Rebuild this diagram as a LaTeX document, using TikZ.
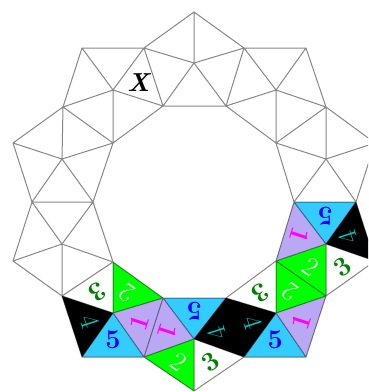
\documentclass[tikz,border=0pt]{standalone}
\definecolor{skyfill}{HTML}{33CCFF}
\definecolor{lilac}{HTML}{BBA8F5}
\definecolor{digitgreen}{RGB}{0,128,0}
\definecolor{digitcyan}{RGB}{0,204,204}
\definecolor{digitmag}{RGB}{255,0,255}
\definecolor{puregreen}{RGB}{0,255,0}
\definecolor{pureblue}{RGB}{0,0,255}
\tikzset{
  edge/.style={draw=black,draw opacity=0.47,line width=1pt,line join=round},
  digit/.style={inner sep=0pt,font=\fontsize{27}{27}\selectfont\bfseries},
  lightdigit/.style={inner sep=0pt,font=\fontsize{27}{27}\selectfont},
  five/.style={digit,text=pureblue},
  one/.style={digit,text=digitmag},
  two/.style={lightdigit,text=white},
  three/.style={digit,text=digitgreen},
  four/.style={lightdigit,text=digitcyan}
}
\newcommand{\lab}[6]{%
  \node[#4,rotate=#5] (lbl-#1-#2-#3) at (barycentric cs:#1=1,#2=1,#3=1) {#6};}
\newcommand{\hubcell}[6]{%
  (#2) -- (#3) -- (#4) -- (#5) -- (#6) -- cycle
  (#1) -- (#2) (#1) -- (#3) (#1) -- (#4) (#1) -- (#5) (#1) -- (#6) }
\begin{document}
\begin{tikzpicture}[x=1pt,y=-1pt]
\useasboundingbox (0,0) rectangle (368,392);
\clip (0,0) rectangle (368,392);
\foreach \n/\x/\y in {t0/194/12,a/144/48,b/244/48,c/82/48,d/306/48,e/194/63,f/113/90,g/276/90,
  h/163/106,i/226/106,j/63/107,k/326/107,l/113/143,m/276/143,n/13/143,o/375/143,p/62/159,q/326/159,
  r/32/202,s/93/202,u/294/202,v/356/202,w/62/244,xx/326/244,yy/13/261,z/113/262,aa/276/261,ab/375/261,
  ac/62/296,ad/326/296,ae/163/298,af/226/298,ag/113/313,ah/276/313,ai/194/339,aj/82/357,ak/144/357,
  al/244/357,am/306/357,an/194/391}
  {\coordinate (\n) at (\x,\y);}
% coloured faces
\fill[skyfill] (ag) -- (ak) -- (aj) -- cycle;
\fill[lilac] (ag) -- (ae) -- (ak) -- cycle;
\fill[puregreen] (z) -- (ae) -- (ag) -- cycle;
\fill[skyfill] (ae) -- (af) -- (ai) -- cycle;
\fill[lilac] (ae) -- (ai) -- (ak) -- cycle;
\fill[puregreen] (ak) -- (ai) -- (an) -- cycle;
\fill[skyfill] (ah) -- (am) -- (al) -- cycle;
\fill[lilac] (ah) -- (ad) -- (am) -- cycle;
\fill[puregreen] (aa) -- (ad) -- (ah) -- cycle;
\fill[puregreen] (aa) -- (xx) -- (ad) -- cycle;
\fill[lilac] (aa) -- (u) -- (xx) -- cycle;
\fill[skyfill] (u) -- (v) -- (xx) -- cycle;
% edges of the ring of ten pentagons
\draw[edge]
  \hubcell{e}{t0}{b}{i}{h}{a}
  \hubcell{f}{c}{a}{h}{l}{j}
  \hubcell{g}{b}{d}{k}{m}{i}
  \hubcell{p}{j}{l}{s}{r}{n}
  \hubcell{q}{k}{o}{v}{u}{m}
  \hubcell{w}{r}{s}{z}{ac}{yy}
  \hubcell{xx}{u}{v}{ab}{ad}{aa}
  \hubcell{ag}{ac}{z}{ae}{ak}{aj}
  \hubcell{ai}{ae}{af}{al}{an}{ak}
  \hubcell{ah}{aa}{ad}{am}{al}{af};
% black faces go over the edges, so that the shared edge does not show
\fill[black] (ac) -- (ag) -- (aj) -- cycle;
\fill[black] (ai) -- (af) -- (ah) -- (al) -- cycle;
\fill[black] (v) -- (ab) -- (xx) -- cycle;
% labels: five triangles round each hub
\lab{ag}{ak}{aj}{five,yshift=3pt}{0}{5}
\lab{ag}{ae}{ak}{one,xshift=-1pt}{72}{1}
\lab{z}{ae}{ag}{two,xshift=-2pt,yshift=-2pt}{144}{2}
\lab{ac}{z}{ag}{three,xshift=1pt,yshift=-2pt}{216}{3}
\lab{ac}{ag}{aj}{four,xshift=4pt}{288}{4}
\lab{ah}{am}{al}{five,yshift=3pt}{0}{5}
\lab{ah}{ad}{am}{one,xshift=-1pt}{72}{1}
\lab{aa}{ad}{ah}{two,xshift=-2pt,yshift=-2pt}{144}{2}
\lab{af}{aa}{ah}{three,xshift=1pt,yshift=-2pt}{216}{3}
\lab{af}{ah}{al}{four,xshift=4pt}{288}{4}
\lab{ae}{af}{ai}{five}{180}{5}
\lab{ae}{ai}{ak}{one,xshift=1pt}{252}{1}
\lab{ak}{ai}{an}{two,xshift=1pt}{324}{2}
\lab{ai}{al}{an}{three}{36}{3}
\lab{af}{al}{ai}{four,xshift=-4pt,yshift=-2pt}{108}{4}
\lab{u}{v}{xx}{five}{180}{5}
\lab{aa}{u}{xx}{one,xshift=1pt}{252}{1}
\lab{aa}{xx}{ad}{two,xshift=1pt}{324}{2}
\lab{xx}{ab}{ad}{three}{36}{3}
\lab{v}{ab}{xx}{four,xshift=-4pt,yshift=-2pt}{108}{4}
\node[inner sep=0pt,font=\fontsize{26}{26}\selectfont\bfseries\itshape] (xlabel) at (138.5,82.5) {X};
\end{tikzpicture}
\end{document}
